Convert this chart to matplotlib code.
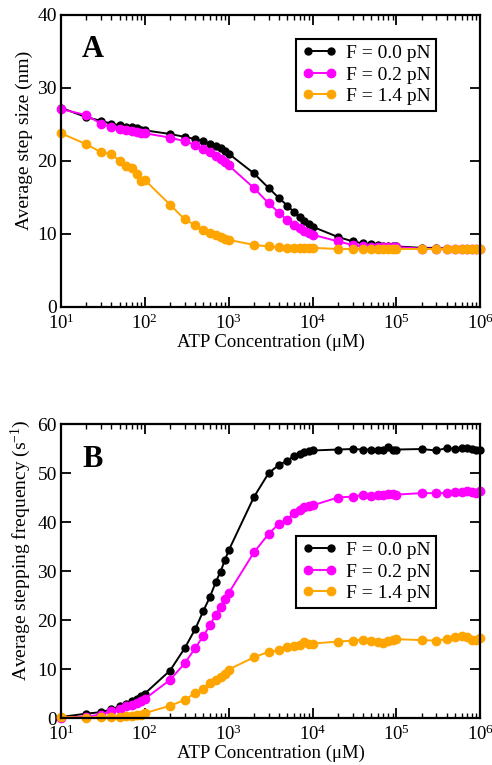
import numpy as np
import matplotlib
matplotlib.use("Agg")
import matplotlib.pyplot as plt
from matplotlib.ticker import LogLocator, NullFormatter

plt.rcParams['font.family'] = ['Liberation Serif', 'DejaVu Serif']
plt.rcParams['mathtext.fontset'] = 'custom'
plt.rcParams['mathtext.rm'] = 'Liberation Serif'
plt.rcParams['mathtext.it'] = 'Liberation Serif:italic'
plt.rcParams['mathtext.bf'] = 'Liberation Serif:bold'

# ATP concentrations (uM)
atp = [10, 20, 30, 40, 50, 60, 70, 80, 90,
       100, 200, 300, 400, 500, 600, 700, 800, 900,
       1000, 2000, 3000, 4000, 5000, 6000, 7000, 8000, 9000,
       10000, 20000, 30000, 40000, 50000, 60000, 70000, 80000, 90000,
       100000, 200000, 300000, 400000, 500000, 600000, 700000, 800000, 900000,
       1000000]

labels = ["F = 0.0 pN", "F = 0.2 pN", "F = 1.4 pN"]
colors = ["#000000", "#ff00ff", "#ffa500"]

# Panel A: average step size (nm)
step_f00 = [27.3, 26.0, 25.5, 25.1, 24.9, 24.7, 24.6, 24.5, 24.3,
            24.2, 23.7, 23.3, 23.0, 22.7, 22.3, 22.0, 21.8, 21.4,
            21.0, 18.3, 16.3, 14.9, 13.9, 13.0, 12.3, 11.8, 11.4,
            11.0, 9.6, 9.0, 8.7, 8.6, 8.5, 8.4, 8.4, 8.3,
            8.3, 8.1, 8.1, 8.0, 8.0, 8.0, 8.0, 8.0, 8.0,
            8.0]
step_f02 = [27.1, 26.3, 25.1, 24.6, 24.4, 24.2, 24.1, 24.0, 23.9,
            23.8, 23.2, 22.7, 22.2, 21.6, 21.2, 20.7, 20.3, 19.8,
            19.4, 16.3, 14.2, 12.9, 11.9, 11.3, 10.8, 10.4, 10.1,
            9.9, 9.0, 8.5, 8.3, 8.2, 8.2, 8.2, 8.2, 8.2,
            8.2, 8.0, 8.0, 8.0, 8.0, 8.0, 8.0, 8.0, 8.0,
            8.0]
step_f14 = [23.8, 22.3, 21.2, 20.9, 20.0, 19.3, 19.1, 18.2, 17.2,
            17.4, 14.0, 12.0, 11.2, 10.6, 10.1, 9.8, 9.6, 9.3,
            9.2, 8.5, 8.3, 8.2, 8.1, 8.1, 8.1, 8.1, 8.1,
            8.1, 7.95, 7.95, 7.95, 7.95, 7.95, 7.95, 7.95, 7.95,
            7.95, 7.95, 7.95, 7.95, 7.95, 7.95, 7.95, 7.95, 7.95,
            7.95]

# Panel B: average stepping frequency (1/s)
freq_f00 = [0.2, 0.9, 1.2, 1.8, 2.4, 2.9, 3.4, 3.9, 4.4,
            5.0, 9.7, 14.3, 18.2, 21.9, 24.8, 27.7, 29.9, 32.2,
            34.2, 45.1, 50.0, 51.7, 52.5, 53.5, 53.9, 54.2, 54.4,
            54.6, 54.8, 54.9, 54.8, 54.8, 54.8, 54.6, 55.4, 54.6,
            54.8, 54.9, 54.6, 55.1, 54.9, 55.1, 55.1, 54.9, 54.8,
            54.8]
freq_f02 = [0.1, 0.3, 0.7, 1.4, 1.9, 2.4, 2.7, 3.1, 3.4,
            3.9, 7.8, 11.2, 14.3, 16.8, 19.0, 21.1, 22.7, 24.3,
            25.5, 33.8, 37.6, 39.7, 40.5, 41.8, 42.5, 43.1, 43.3,
            43.4, 45.0, 45.2, 45.5, 45.4, 45.5, 45.6, 45.7, 45.7,
            45.6, 45.9, 45.9, 45.9, 46.1, 46.1, 46.3, 46.1, 45.9,
            46.3]
freq_f14 = [0.2, 0.1, 0.2, 0.3, 0.3, 0.4, 0.5, 0.6, 0.7,
            1.0, 2.5, 3.7, 5.1, 6.0, 7.1, 7.8, 8.4, 9.0,
            9.9, 12.4, 13.5, 13.8, 14.4, 14.8, 15.0, 15.6, 15.2,
            15.2, 15.6, 15.8, 16.0, 15.8, 15.6, 15.4, 15.8, 16.0,
            16.1, 15.9, 15.8, 16.1, 16.5, 16.7, 16.5, 16.0, 16.0,
            16.3]

fig = plt.figure(figsize=(4.92, 7.65), dpi=100)
axA = fig.add_axes([0.124, 0.5987, 0.852, 0.3817])
axB = fig.add_axes([0.124, 0.0614, 0.852, 0.3843])

msizes = [5.0, 6.0, 6.0]
fs = 14

def style(ax, ylim, yticks, ylabel, letter):
    ax.set_xscale('log')
    ax.set_xlim(10, 1e6)
    ax.set_ylim(*ylim)
    ax.set_yticks(yticks)
    ax.xaxis.set_major_locator(LogLocator(base=10, numticks=10))
    ax.xaxis.set_minor_locator(LogLocator(base=10, subs=np.arange(2, 10), numticks=20))
    ax.xaxis.set_minor_formatter(NullFormatter())
    ax.tick_params(which='both', direction='in', top=True, right=True, labelsize=fs)
    ax.tick_params(which='major', length=7, width=1.3)
    ax.tick_params(which='minor', length=3.5, width=1.0)
    ax.tick_params(axis='x', which='major', pad=5, labelsize=13.5)
    ax.tick_params(axis='y', which='major', pad=3)
    for sp in ax.spines.values():
        sp.set_linewidth(1.6)
    ax.set_xlabel("ATP Concentration (\u03bcM)", fontsize=13.5, labelpad=0)
    ax.set_ylabel(ylabel, fontsize=fs)
    ax.yaxis.set_label_coords(-0.066, 0.572)
    ax.text(0.05, 0.93, letter, transform=ax.transAxes, fontsize=22,
            fontweight='bold', va='top', ha='left')

for ys, lab, c, ms in zip([step_f00, step_f02, step_f14], labels, colors, msizes):
    axA.plot(atp, ys, '-o', color=c, lw=1.4, ms=ms, label=lab, clip_on=False)
for ys, lab, c, ms in zip([freq_f00, freq_f02, freq_f14], labels, colors, msizes):
    axB.plot(atp, ys, '-o', color=c, lw=1.4, ms=ms, label=lab, clip_on=False)

style(axA, (0, 40), [0, 10, 20, 30, 40], "Average step size (nm)", "A")
style(axB, (0, 60), [0, 10, 20, 30, 40, 50, 60],
      "Average stepping frequency (s$^{-1}$)", "B")

for ax, loc in [(axA, (0.561, 0.671)), (axB, (0.561, 0.374))]:
    leg = ax.legend(loc='lower left', bbox_to_anchor=loc, fontsize=fs,
                    numpoints=2, handlelength=1.8, handletextpad=0.45,
                    labelspacing=0.2, borderpad=0.3, borderaxespad=0,
                    fancybox=False, framealpha=1, edgecolor='black')
    leg.get_frame().set_linewidth(1.5)

fig.savefig("out.png", dpi=100)
